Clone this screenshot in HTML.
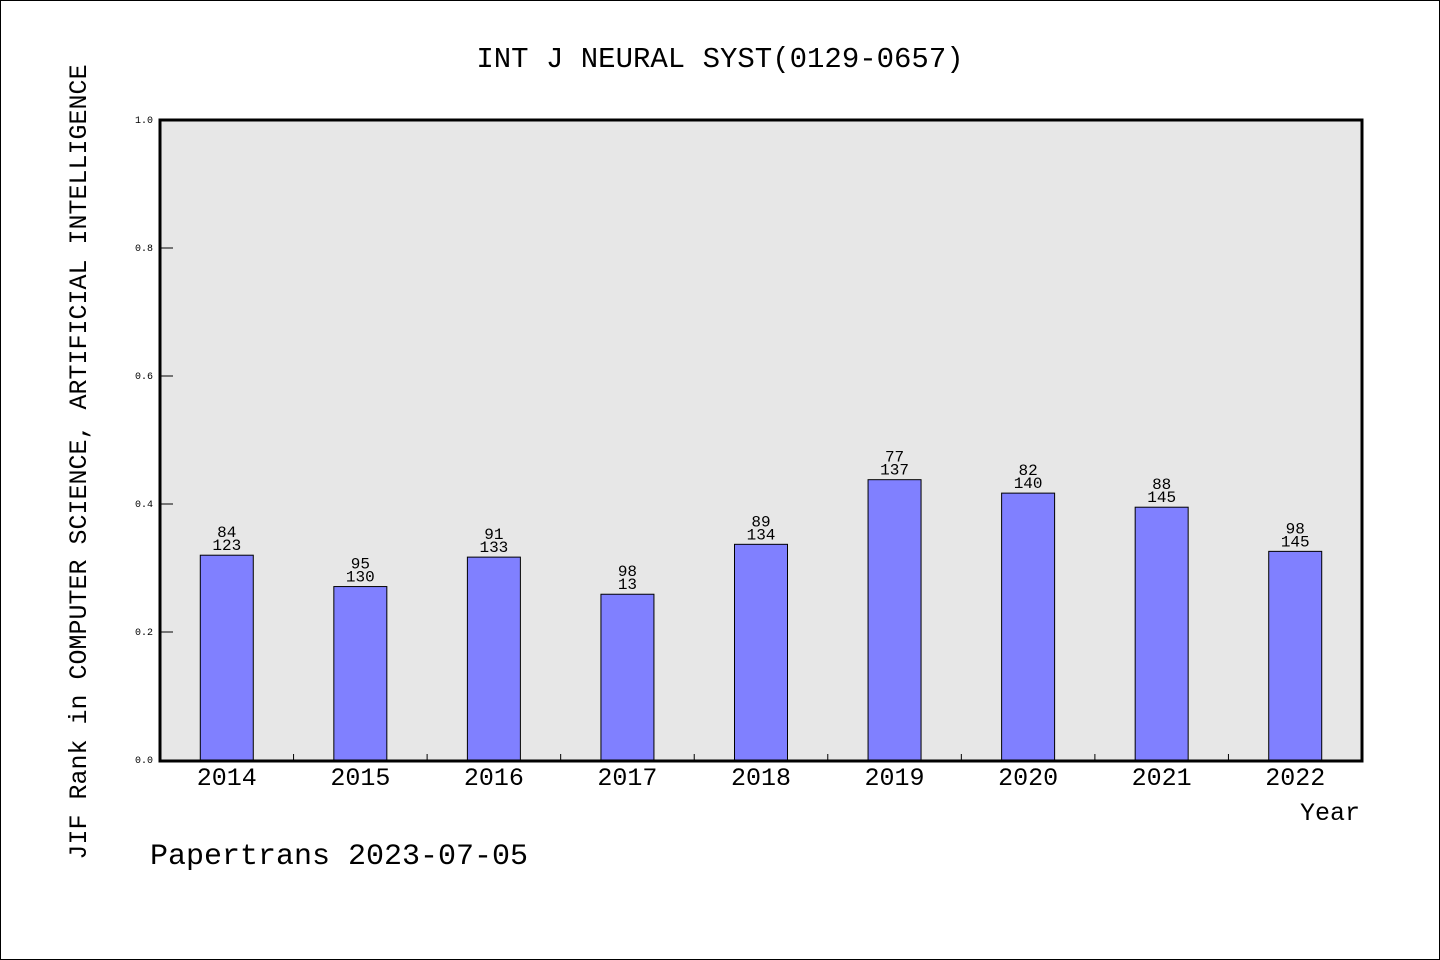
<!DOCTYPE html>
<html><head><meta charset="utf-8"><style>
body{margin:0;background:#fff}
svg{display:block}
text{font-family:"Liberation Mono",monospace}
</style></head><body>
<svg id="chart" width="1440" height="960">
<rect x="0.5" y="0.5" width="1439" height="959" fill="#fff" stroke="#000"/>
<text x="720" y="67" font-size="29" text-anchor="middle">INT J NEURAL SYST(0129-0657)</text>
<rect x="160" y="120" width="1202" height="641" fill="#e7e7e7"/>
<g id="bars"></g>
<g id="axes"></g>
<rect x="160" y="120" width="1202" height="641" fill="none" stroke="#000" stroke-width="3"/>
<text x="1360" y="820" font-size="25" text-anchor="end">Year</text>
<text transform="translate(86,462) rotate(-90)" font-size="25" text-anchor="middle">JIF Rank in COMPUTER SCIENCE, ARTIFICIAL INTELLIGENCE</text>
<text x="150" y="864" font-size="30">Papertrans 2023-07-05</text>
</svg>
<script>
const years=["2014","2015","2016","2017","2018","2019","2020","2021","2022"];
const values=[0.320,0.271,0.317,0.259,0.337,0.438,0.417,0.395,0.326];
const rankTop=["84","95","91","98","89","77","82","88","98"];
const rankBottom=["123","130","133","13","134","137","140","145","145"];
const yTicks=[0,0.2,0.4,0.6,0.8,1.0];
const yTickLabels=["0.0","0.2","0.4","0.6","0.8","1.0"];
const NS="http://www.w3.org/2000/svg";
const L=160,R=1362,T=120,B=760;
const bw=(R-L)/years.length;
const xc=i=>L+bw*(i+0.5);
const y=v=>B-v*(B-T);
function mk(tag,at,parent){const e=document.createElementNS(NS,tag);for(const k in at)e.setAttribute(k,at[k]);parent.appendChild(e);return e;}
const gb=document.getElementById('bars'),ga=document.getElementById('axes');
years.forEach((yr,i)=>{
 const r=mk('rect',{x:xc(i)-26.5,y:y(values[i]),width:53,height:B-y(values[i]),fill:'#8080ff',stroke:'#000','stroke-width':1},gb);
 
 
 const t1=mk('text',{x:xc(i),y:y(values[i])-18,'font-size':16,'text-anchor':'middle'},gb);t1.textContent=rankTop[i];
 
 
 const t2=mk('text',{x:xc(i),y:y(values[i])-5,'font-size':16,'text-anchor':'middle'},gb);t2.textContent=rankBottom[i];
 
 
 const xl=mk('text',{x:xc(i),y:785,'font-size':25,'text-anchor':'middle'},ga);xl.textContent=yr;
 
 
 if(i>0){const tk=mk('line',{x1:L+bw*i,x2:L+bw*i,y1:B,y2:B-6,stroke:'#000'},ga);
 
 }
});
yTicks.forEach((v,i)=>{
 const tk=mk('line',{x1:L,x2:173,y1:y(v),y2:y(v),stroke:'#000'},ga);
 
 
 const tl=mk('text',{x:153,y:y(v)+3,'font-size':10,'text-anchor':'end'},ga);tl.textContent=yTickLabels[i];
 
 
});
</script>
</body></html>
